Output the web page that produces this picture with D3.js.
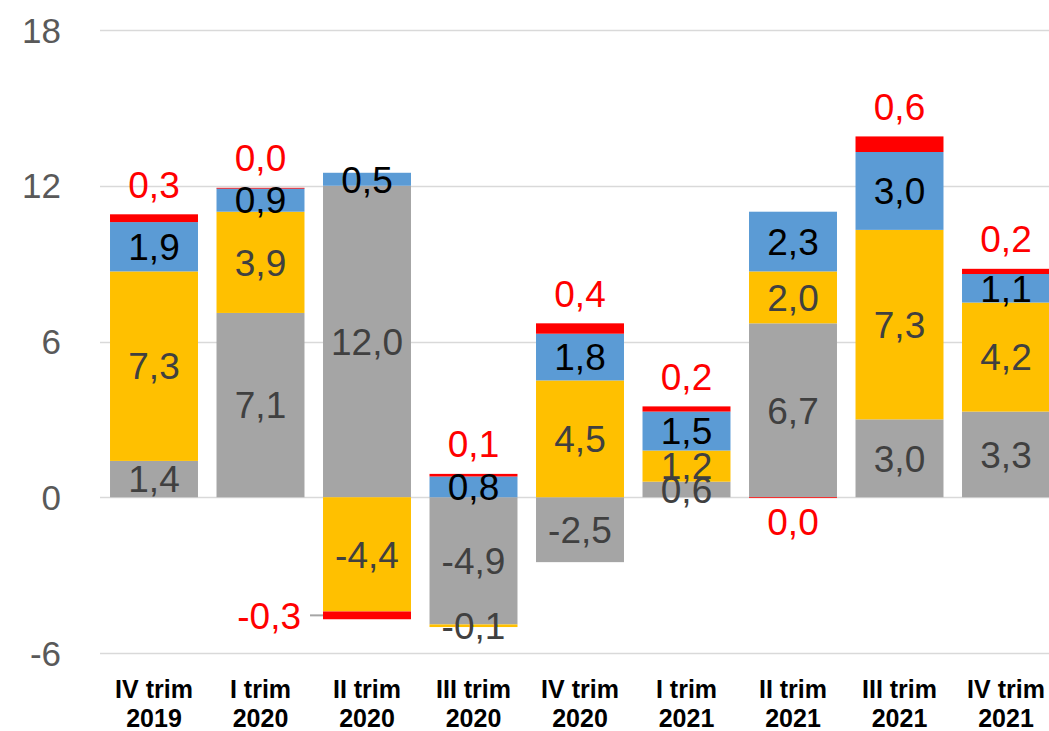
<!DOCTYPE html>
<html><head><meta charset="utf-8">
<script src="https://cdn.jsdelivr.net/npm/d3@7"></script>
<style>
html,body{margin:0;padding:0;background:#fff;overflow:hidden;}
svg{display:block;}
</style></head>
<body>
<svg id="chart" width="1049" height="731"></svg>
<script>
// ---------- data ----------
const categoriesLine1 = ["IV trim","I trim","II trim","III trim","IV trim","I trim","II trim","III trim","IV trim"];
const categoriesLine2 = ["2019","2020","2020","2020","2020","2021","2021","2021","2021"];
const graySeries   = [1.4, 7.1, 12.0, -4.9, -2.5, 0.6, 6.7, 3.0, 3.3];
const yellowSeries = [7.3, 3.9, -4.4, -0.1, 4.5, 1.2, 2.0, 7.3, 4.2];
const blueSeries   = [1.9, 0.9, 0.5, 0.8, 1.8, 1.5, 2.3, 3.0, 1.1];
const redSeries    = [0.3, 0.02, -0.3, 0.1, 0.4, 0.2, -0.02, 0.6, 0.2];
const yTicks = [-6, 0, 6, 12, 18];

// ---------- config ----------
const W = 1049, H = 731;
const keys = ["gray","yellow","blue","red"];
const colors = {gray:"#A5A5A5", yellow:"#FFC000", blue:"#5B9BD5", red:"#FF0000"};
const labelColors = {gray:"#404040", yellow:"#404040", blue:"#000000", red:"#FF0000"};
const redLabelLeftIdx = [2]; // label moved to the left with leader line

const rows = categoriesLine1.map((c,i)=>({
  idx:i, gray:graySeries[i], yellow:yellowSeries[i], blue:blueSeries[i], red:redSeries[i]
}));

const svg = d3.select("#chart");
const x = d3.scaleBand().domain(d3.range(rows.length))
  .range([100.75, 1059.25]).paddingInner(0.174).paddingOuter(0.087);
const y = d3.scaleLinear().domain([-6, 18]).range([653, 30]);

// gridlines
svg.append("g").selectAll("line").data(yTicks).join("line")
  .attr("x1", 100).attr("x2", W)
  .attr("y1", d=>Math.round(y(d))+0.5).attr("y2", d=>Math.round(y(d))+0.5)
  .attr("stroke", "#D9D9D9").attr("stroke-width", 1.5);

// y-axis tick labels
svg.append("g").selectAll("text").data(yTicks).join("text")
  .attr("x", 61).attr("y", d=>y(d))
  .attr("dy", "0.36em")
  .attr("text-anchor","end")
  .attr("font-family","'Liberation Sans', Arial, sans-serif")
  .attr("font-size", 35).attr("fill","#595959")
  .text(d=>d);

const stack = d3.stack().keys(keys).offset(d3.stackOffsetDiverging);
const series = stack(rows);

const fmt = v => {
  let s = v.toFixed(1);
  if (Math.abs(v) < 0.05) s = "0.0";
  return s.replace(".", ",");
};

// bars
const gBars = svg.append("g");
series.forEach(s=>{
  gBars.append("g").selectAll("rect").data(s).join("rect")
    .attr("x", (d,i)=>x(i))
    .attr("width", x.bandwidth())
    .attr("y", d=>y(Math.max(d[0],d[1])))
    .attr("height", d=>Math.max(0.8, Math.abs(y(d[0])-y(d[1]))))
    .attr("fill", colors[s.key]);
});

// labels
const gLab = svg.append("g")
  .attr("font-family","'Liberation Sans', Arial, sans-serif")
  .attr("font-size", 37);
series.forEach(s=>{
  s.forEach((d,i)=>{
    const v = rows[i][s.key];
    const cx = x(i) + x.bandwidth()/2;
    let lx = cx, ly, anchor = "middle";
    if (s.key === "red") {
      if (redLabelLeftIdx.includes(i)) {
        ly = y((d[0]+d[1])/2);
        lx = x(i) - 22;
        anchor = "end";
        gLab.append("line")
          .attr("x1", x(i)-13).attr("x2", x(i))
          .attr("y1", ly).attr("y2", ly)
          .attr("stroke","#A6A6A6").attr("stroke-width",2);
      } else if (v >= 0) {
        ly = y(d[1]) - 30;
      } else {
        ly = y(d[0]) + 24;
      }
    } else {
      ly = y((d[0]+d[1])/2);
    }
    gLab.append("text")
      .attr("x", lx).attr("y", ly).attr("dy","0.36em")
      .attr("text-anchor", anchor)
      .attr("fill", labelColors[s.key])
      .text(fmt(v));
  });
});

// x-axis category labels
const gX = svg.append("g")
  .attr("font-family","'Liberation Sans', Arial, sans-serif")
  .attr("font-size", 25).attr("font-weight","bold").attr("fill","#000");
rows.forEach((r,i)=>{
  const cx = x(i) + x.bandwidth()/2;
  gX.append("text").attr("x", cx).attr("y", 698).attr("text-anchor","middle").text(categoriesLine1[i]);
  gX.append("text").attr("x", cx).attr("y", 727).attr("text-anchor","middle").text(categoriesLine2[i]);
});
</script>
</body></html>
